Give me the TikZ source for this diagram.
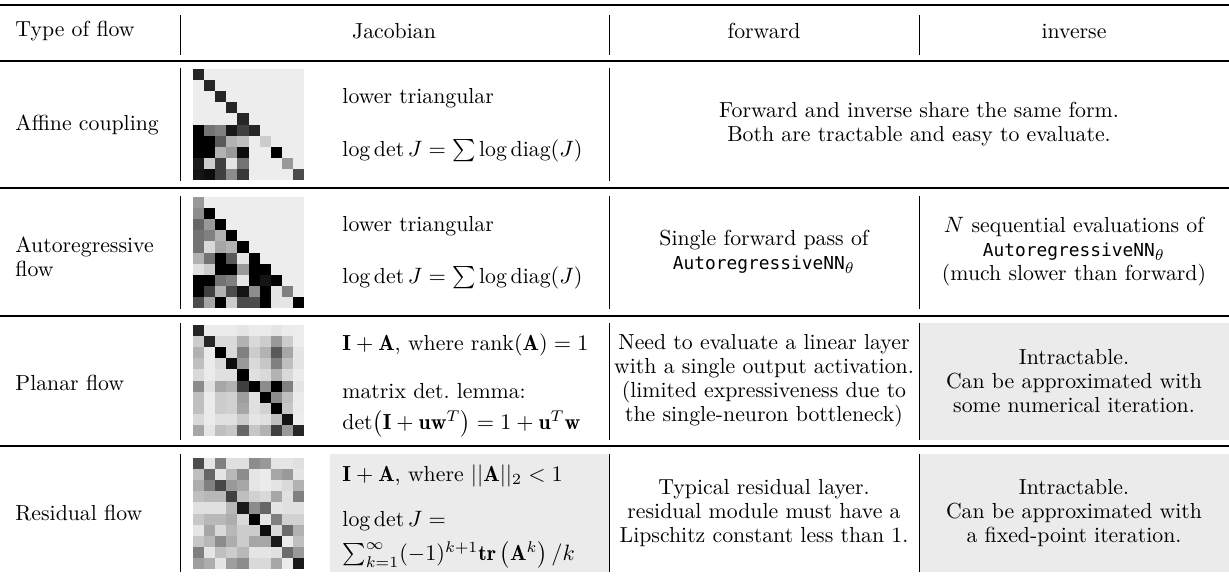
\documentclass[tikz,border=0pt]{standalone}
\usepackage{amsmath}
\usepackage{fontspec}
\setmonofont{DejaVu Sans Mono}[Scale=0.82]
\definecolor{cellgray}{gray}{0.92}

% 10x10 Jacobian picture: #1 = top edge, #2 = rows of darkness values
\newcommand{\jacmat}[2]{%
  \foreach \jrow [count=\jr from 0] in {#2} {%
    \foreach \v [count=\jc from 0] in \jrow {%
      \fill[black!\v] (193+11.1*\jc, #1+11.1*\jr) rectangle ++(11.3,11.3);
    }%
  }%
}

\begin{document}
\begin{tikzpicture}[x=0.45pt, y=-0.45pt,
    every node/.style={font=\fontsize{9.8}{10.8}\selectfont, inner sep=0pt},
    lcell/.style={anchor=west, align=left},
    ccell/.style={align=center}]
    \useasboundingbox (0,0) rectangle (1229,577);

    % Shaded cells
    \fill[cellgray] (919,323) rectangle (1229,440);
    \fill[cellgray] (330,454) rectangle (609,572);
    \fill[cellgray] (919,454) rectangle (1229,572);

    % Horizontal rules
    \draw[line width=0.9pt] (0,5) -- (1229,5);
    \draw[line width=0.7pt] (0,61) -- (1229,61);
    \foreach \y in {188,316,446}
        \draw[line width=0.6pt] (0,\y) -- (1229,\y);

    % Column separators (row 1 has a merged cell)
    \foreach \ya/\yb in {15/55,196/309,323/440,454/572}
        \foreach \x in {180,609,919}
            \draw (\x,\ya) -- (\x,\yb);
    \draw (180,68) -- (180,181);
    \draw (609,68) -- (609,181);

    % Header
    \node[lcell] (hdType) at (15,31) {Type of flow};
    \node (hdJac) at (394,31) {Jacobian};
    \node (hdFwd) at (764,31) {forward};
    \node (hdInv) at (1074,31) {inverse};

    % Affine coupling
    \node[lcell] (affName) at (15,125) {Affine coupling};
    \jacmat{69}{{85,7,7,7,7,7,7,7,7,7},{7,85,7,7,7,7,7,7,7,7},
        {7,7,85,7,7,7,7,7,7,7},{7,7,7,85,7,7,7,7,7,7},
        {7,7,7,7,85,7,7,7,7,7},{100,55,50,90,75,85,7,7,7,7},
        {100,100,65,30,25,7,20,7,7,7},{100,100,30,40,95,7,7,100,7,7},
        {90,20,75,10,55,7,7,7,40,7},{92,95,75,45,78,7,7,7,7,70}}
    \node[lcell] (affTri) at (342,98) {lower triangular};
    \node[lcell] (affDet) at (342,151) {$\log\det J = \sum\log\operatorname{diag}(J)$};
    \node[ccell] (affBoth) at (919,124) {Forward and inverse share the same form.\\Both are tractable and easy to evaluate.};

    % Autoregressive flow
    \node[lcell] (autName) at (15,257) {Autoregressive\\flow};
    \jacmat{197}{{40,7,7,7,7,7,7,7,7,7},{45,100,7,7,7,7,7,7,7,7},
        {60,40,100,7,7,7,7,7,7,7},{55,50,30,100,7,7,7,7,7,7},
        {55,15,35,30,100,7,7,7,7,7},{30,55,100,65,10,100,7,7,7,7},
        {12,20,100,100,40,100,100,7,7,7},{100,100,55,50,10,100,92,100,7,7},
        {100,75,30,70,92,45,100,10,50,7},{70,35,100,20,70,70,100,10,10,100}}
    \node[lcell] (autTri) at (342,226) {lower triangular};
    \node[lcell] (autDet) at (342,278) {$\log\det J = \sum\log\operatorname{diag}(J)$};
    \node[ccell] (autFwd) at (764,252) {Single forward pass of\\\texttt{AutoregressiveNN}$_\theta$};
    \node[ccell] (autInv) at (1074,252) {$N$ sequential evaluations of\\\texttt{AutoregressiveNN}$_\theta$\\(much slower than forward)};

    % Planar flow
    \node[lcell] (plaName) at (15,383) {Planar flow};
    \jacmat{325}{{85,8,8,8,10,8,8,10,8,7},{20,85,15,15,30,15,20,40,20,7},
        {30,8,100,15,50,20,30,65,35,10},{25,8,15,95,40,15,22,50,25,10},
        {15,8,12,12,100,12,15,30,15,8},{45,12,35,30,75,100,45,100,50,10},
        {25,8,20,18,38,12,100,45,25,8},{25,8,20,18,35,12,18,100,22,8},
        {15,8,12,12,20,10,12,25,92,7},{35,10,25,22,60,22,30,75,40,85}}
    \node[lcell] (plaRank) at (342,345) {$\mathbf{I}+\mathbf{A}$, where $\operatorname{rank}(\mathbf{A})=1$};
    \node[lcell] (plaLemma) at (342,391) {matrix det.\ lemma:};
    \node[lcell] (plaDet) at (342,424) {$\det\bigl(\mathbf{I}+\mathbf{u}\mathbf{w}^T\bigr)=1+\mathbf{u}^T\mathbf{w}$};
    \node[ccell] (plaFwd) at (764,381) {Need to evaluate a linear layer\\with a single output activation.\\(limited expressiveness due to\\the single-neuron bottleneck)};
    \node[ccell] (plaInv) at (1074,381) {Intractable.\\Can be approximated with\\some numerical iteration.};

    % Residual flow
    \node[lcell] (resName) at (15,513) {Residual flow};
    \jacmat{458}{{70,10,50,12,12,45,40,10,10,12},{25,60,10,28,45,10,8,35,40,10},
        {32,50,72,40,35,10,8,10,15,30},{25,28,28,75,25,18,15,35,12,50},
        {12,12,12,28,90,45,60,10,12,12},{22,28,28,32,15,100,10,50,18,18},
        {10,35,15,28,20,20,95,15,58,30},{22,28,45,32,20,35,35,90,8,25},
        {50,10,25,20,28,10,10,12,58,40},{38,32,10,38,45,15,15,35,8,90}}
    \node[lcell] (resNorm) at (342,476) {$\mathbf{I}+\mathbf{A}$, where $||\mathbf{A}||_2<1$};
    \node[lcell] (resDet) at (342,521) {$\log\det J=$};
    \node[lcell] (resSum) at (342,555) {$\sum_{k=1}^{\infty}(-1)^{k+1}\mathbf{tr}\left(\mathbf{A}^k\right)/k$};
    \node[ccell] (resFwd) at (764,513) {Typical residual layer.\\residual module must have a\\Lipschitz constant less than 1.};
    \node[ccell] (resInv) at (1074,513) {Intractable.\\Can be approximated with\\a fixed-point iteration.};
\end{tikzpicture}
\end{document}
